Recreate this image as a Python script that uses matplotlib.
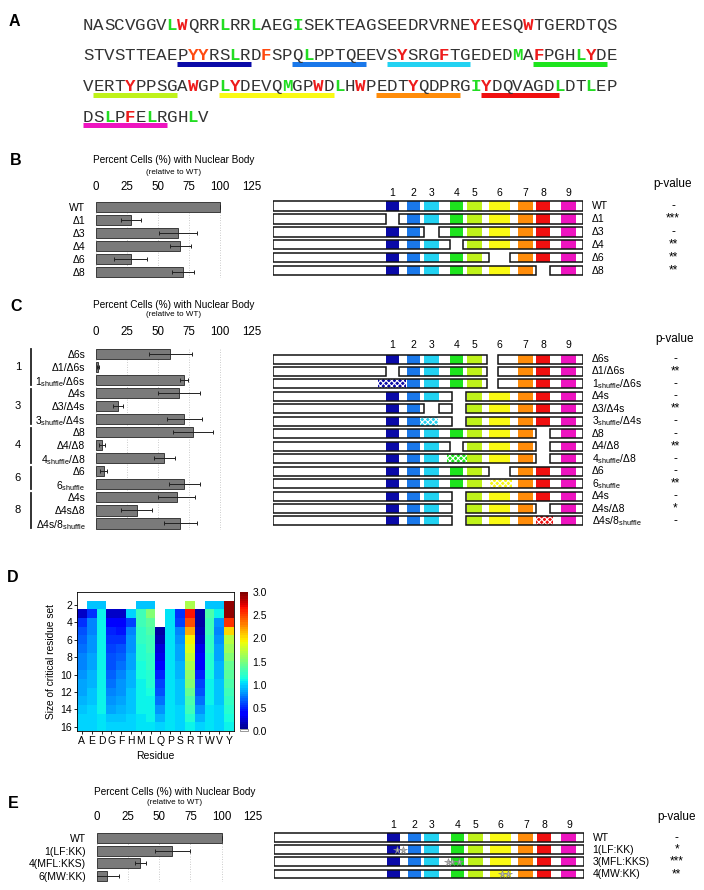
import numpy as np
import matplotlib
matplotlib.use('Agg')
import matplotlib.pyplot as plt
from matplotlib.patches import Rectangle
from matplotlib.colors import ListedColormap

plt.rcParams['font.family'] = ['Liberation Sans', 'DejaVu Sans']
plt.rcParams['mathtext.default'] = 'regular'
plt.rcParams['hatch.linewidth'] = 0.8

W, H = 704, 890
nan = np.nan

# ---------------- data ----------------
seq_lines = ["NASCVGGVLWQRRLRRLAEGISEKTEAGSEEDRVRNEYEESQWTGERDTQS",
             "STVSTTEAEPYYRSLRDFSPQLPPTQEEVSYSRGFTGEDEDMAFPGHLYDE",
             "VERTYPPSGAWGPLYDEVQMGPWDLHWPEDTYQDPRGIYDQVAGDLDTLEP",
             "DSLPFELRGHLV"]
# residue numbers (0-based) printed in colour
green_res = [8, 13, 16, 20, 65, 72, 92, 98, 115, 121, 126, 139, 147, 150, 155, 159, 163]
red_res = [9, 37, 42, 81, 85, 94, 99, 106, 112, 116, 124, 128, 133, 140, 157]
orange_res = [61, 62, 68]

# the nine conserved segments (residue ranges)
seg_start = [60, 71, 80, 94, 103, 115, 130, 140, 153]
seg_end = [67, 78, 88, 101, 111, 126, 138, 147.5, 161]
seg_colors = ['#0a0aa8', '#1a78ea', '#22d2f2', '#1ee41e', '#bff21a',
              '#fafa14', '#ff8c0a', '#f01010', '#ee14c0']
prot_len = 165

# partial deletions
del4s = (95, 102.5)
del6s = (114, 119.5)

# panel B
b_labels = ['WT', 'Δ1', 'Δ3', 'Δ4', 'Δ6', 'Δ8']
b_vals = [100, 28, 66, 68, 28, 70]
b_errs = [0, 8, 15, 8.5, 13, 9]
b_del = [[], [1], [3], [4], [6], [8]]
b_pval = ['-', '***', '-', '**', '**', '**']

# panel C
sh = '$_{shuffle}$'
c_labels = ['Δ6s', 'Δ1/Δ6s', '1' + sh + '/Δ6s', 'Δ4s', 'Δ3/Δ4s', '3' + sh + '/Δ4s',
            'Δ8', 'Δ4/Δ8', '4' + sh + '/Δ8', 'Δ6', '6' + sh, 'Δ4s', 'Δ4sΔ8',
            'Δ4s/8' + sh]
c_diag_labels = c_labels[:12] + ['Δ4s/Δ8', 'Δ4s/8' + sh]
c_vals = [60, 1.5, 71, 67, 18, 71, 78, 5, 55, 6.5, 71, 65, 33, 68]
c_errs = [17, 0.8, 3.5, 17, 4, 14, 16, 2.5, 8.5, 2.7, 12.5, 15, 12.5, 13.5]
c_del = [[del6s], [1, del6s], [del6s], [del4s], [3, del4s], [del4s],
         [8], [4, 8], [8], [6], [], [del4s], [del4s, 8], [del4s]]
c_shuffle = [None, None, (1, 55.7, 70.6), None, None, (3, 78, 87.6), None, None,
             (4, 92.4, 103), None, (6, 115.5, 127), None, None, (8, 140, 149)]
c_pval = ['-', '**', '-', '-', '**', '-', '-', '**', '-', '-', '**', '-', '*', '-']
c_groups = ['1', '3', '4', '6', '8']
c_group_sizes = [3, 3, 3, 2, 3]

# panel D: score per residue type, for critical residue set size 1..16
residues = ['A', 'E', 'D', 'G', 'F', 'H', 'M', 'L', 'Q', 'P', 'S', 'R', 'T', 'W', 'V', 'Y']
set_sizes = list(range(1, 17))
heat_A = [nan, nan, 0.2, 0.55, 0.65, 0.7, 0.72, 0.75, 0.78, 0.82, 0.85, 0.88, 0.9, 0.95, 1.0, 1.02]
heat_E = [nan, 0.95, 0.55, 0.75, 0.78, 0.8, 0.82, 0.85, 0.88, 0.9, 0.92, 0.95, 0.97, 1.0, 1.0, 1.02]
heat_D = [nan, 0.95, 1.1, 1.1, 1.1, 1.1, 1.1, 1.1, 1.1, 1.1, 1.1, 1.1, 1.08, 1.08, 1.05, 1.05]
heat_G = [nan, nan, 0.2, 0.4, 0.48, 0.55, 0.6, 0.62, 0.65, 0.7, 0.72, 0.75, 0.8, 0.85, 0.95, 1.0]
heat_F = [nan, nan, 0.2, 0.35, 0.45, 0.55, 0.62, 0.68, 0.72, 0.75, 0.8, 0.82, 0.85, 0.9, 0.95, 1.0]
heat_H = [nan, nan, 1.0, 0.6, 0.75, 0.8, 0.82, 0.85, 0.88, 0.9, 0.92, 0.95, 0.95, 0.98, 1.0, 1.02]
heat_M = [nan, 0.95, 1.3, 1.3, 1.25, 1.22, 1.2, 1.18, 1.15, 1.15, 1.12, 1.1, 1.1, 1.08, 1.05, 1.05]
heat_L = [nan, 0.95, 1.5, 1.4, 1.35, 1.3, 1.28, 1.25, 1.22, 1.2, 1.18, 1.15, 1.12, 1.1, 1.08, 1.05]
heat_Q = [nan, nan, nan, nan, 0.12, 0.18, 0.25, 0.32, 0.42, 0.5, 0.58, 0.65, 0.72, 0.8, 0.9, 1.0]
heat_P = [nan, nan, 1.05, 1.05, 1.05, 1.05, 1.05, 1.05, 1.05, 1.05, 1.05, 1.05, 1.05, 1.05, 1.05, 1.05]
heat_S = [nan, nan, 0.55, 0.6, 0.75, 0.8, 0.85, 0.88, 0.9, 0.92, 0.95, 0.95, 0.98, 1.0, 1.0, 1.02]
heat_R = [nan, 1.65, 2.65, 2.45, 2.2, 1.95, 1.85, 1.75, 1.65, 1.55, 1.5, 1.42, 1.35, 1.28, 1.2, 1.12]
heat_T = [nan, nan, 0.1, 0.1, 0.15, 0.22, 0.3, 0.35, 0.42, 0.5, 0.58, 0.65, 0.72, 0.8, 0.9, 1.0]
heat_W = [nan, 0.95, 1.35, 1.3, 1.28, 1.25, 1.22, 1.2, 1.18, 1.15, 1.12, 1.1, 1.08, 1.05, 1.05, 1.05]
heat_V = [nan, 0.95, 1.1, 0.8, 0.78, 0.8, 0.85, 0.88, 0.9, 0.92, 0.95, 0.95, 0.98, 1.0, 1.0, 1.02]
heat_Y = [nan, 2.95, 2.95, 2.55, 2.05, 1.7, 1.6, 1.5, 1.45, 1.4, 1.35, 1.3, 1.25, 1.2, 1.15, 1.1]

# panel E
e_labels = ['WT', '1(LF:KK)', '4(MFL:KKS)', '6(MW:KK)']
e_diag_labels = ['WT', '1(LF:KK)', '3(MFL:KKS)', '4(MW:KK)']
e_vals = [100, 60.5, 35, 8.5]
e_errs = [0, 14, 4.3, 9]
e_mut = [[], [65, 68], [92, 94, 98], [121, 124]]
e_pval = ['-', '*', '***', '**']


# ---------------- helpers ----------------
def box(l, t, r, b):
    return [l / W, 1 - b / H, (r - l) / W, (b - t) / H]


def px(x, y):
    return x / W, 1 - y / H


fig = plt.figure(figsize=(7.04, 8.90), dpi=100)

for lab, (x, y) in zip('ABCDE', [(14, 22), (16, 161), (16, 307), (13, 577), (13, 804)]):
    fig.text(*px(x, y), lab, fontsize=11.5, fontweight='bold', ha='center', va='center')

# ---------------- A: sequence ----------------
ax_a = fig.add_axes(box(83, 9.7, 617, 132.4))
ax_a.set_xlim(0, 51)
ax_a.set_ylim(3.5, -0.5)
ax_a.axis('off')
for li, line in enumerate(seq_lines):
    for ci, ch in enumerate(line):
        r = li * 51 + ci
        col, fw = '#333333', 'normal'
        if r in green_res:
            col, fw = '#22dd22', 'bold'
        elif r in red_res:
            col, fw = '#ee1c1c', 'bold'
        elif r in orange_res:
            col, fw = '#ff4a10', 'bold'
        ax_a.text(ci + 0.5, li + 0.15, ch, family='Liberation Mono', fontsize=12.6,
                  color=col, fontweight=fw, ha='center', va='baseline')
for s0, s1, c in zip(seg_start, seg_end, seg_colors):
    li = int(s0 // 51)
    ax_a.plot([s0 - li * 51, min(s1, (li + 1) * 51) - li * 51], [li + 0.27] * 2,
              color=c, lw=3.6, solid_capstyle='butt')


# ---------------- bar panels ----------------
def bar_panel(rect, labels, vals, errs, title_y, sub_y, tick_pad):
    ax = fig.add_axes(rect)
    y = np.arange(len(labels))
    ax.barh(y, vals, height=0.78, color='#7a7a7a', edgecolor='#3a3a3a', lw=0.7, zorder=2)
    ax.errorbar(vals, y, xerr=errs, fmt='none', ecolor='#222222', elinewidth=0.7,
                capsize=1.5, capthick=0.7, zorder=3)
    ax.set_xlim(0, 125)
    ax.set_ylim(len(labels) - 0.5, -0.5)
    ax.set_xticks([0, 25, 50, 75, 100, 125])
    ax.xaxis.set_ticks_position('top')
    ax.tick_params(axis='x', length=0, pad=tick_pad, labelsize=8.3)
    ax.set_yticks(y)
    ax.set_yticklabels(labels)
    ax.tick_params(axis='y', length=0, pad=7.5, labelsize=7.5)
    ax.grid(axis='x', ls=(0, (1, 2)), color='#bbbbbb', lw=0.6)
    ax.set_axisbelow(True)
    for s in ax.spines.values():
        s.set_visible(False)
    l, b, w, h = rect
    xc = (l + w * 0.5)
    fig.text(xc, 1 - title_y / H, 'Percent Cells (%) with Nuclear Body', fontsize=7.2,
             ha='center', va='center')
    fig.text(xc, 1 - sub_y / H, '(relative to WT)', fontsize=5.8, ha='center', va='center')
    return ax


# ---------------- construct diagrams ----------------
def diagram(rect, dels, shuffles, labels, pvals, num_y, head_y, lab_x, p_x, muts=None):
    ax = fig.add_axes(rect)
    n = len(dels)
    ax.set_xlim(0, prot_len)
    ax.set_ylim(n - 0.5, -0.5)
    ax.axis('off')
    l, b, w, h = rect
    top_px = (1 - b - h) * H
    row_px = h * H / n
    to_row = lambda ypx: (ypx - top_px) / row_px - 0.5
    to_x = lambda xpx: (xpx / W - l) / w * prot_len
    hh = 0.72
    for row in range(n):
        gaps = []
        for d in dels[row]:
            if isinstance(d, int):
                gaps.append((seg_start[d - 1], seg_end[d - 1]))
            else:
                gaps.append(d)
        gaps.sort()
        pieces, x0 = [], 0
        for g0, g1 in gaps:
            pieces.append((x0, g0))
            x0 = g1
        pieces.append((x0, prot_len))
        for p0, p1 in pieces:
            ax.add_patch(Rectangle((p0, row - hh / 2), p1 - p0, hh, fc='white', ec='none', zorder=1))
        shf = shuffles[row] if shuffles else None
        for k in range(9):
            s0, s1 = seg_start[k], seg_end[k]
            if any(s0 < g1 and s1 > g0 for g0, g1 in gaps):
                continue
            if shf and shf[0] == k + 1:
                continue
            ax.add_patch(Rectangle((s0, row - hh / 2), s1 - s0, hh, fc=seg_colors[k],
                                   ec='none', zorder=2))
        if shf:
            k, s0, s1 = shf
            ax.add_patch(Rectangle((s0, row - hh / 2), s1 - s0, hh, fc=seg_colors[k - 1],
                                   ec='white', lw=0, hatch='xxxxxx', zorder=2))
        for p0, p1 in pieces:
            ax.add_patch(Rectangle((p0, row - hh / 2), p1 - p0, hh, fill=False,
                                   ec='#111111', lw=1.1, zorder=4))
        if muts:
            ax.plot(np.array(muts[row]) + 0.5, [row] * len(muts[row]), ls='none',
                    marker='*', ms=5.5, mfc='#b8b8b8', mec='#808080', mew=0.4, zorder=5)
        ax.text(to_x(lab_x), row, labels[row], fontsize=7.5, ha='left', va='center')
        ax.text(to_x(p_x), row, pvals[row], fontsize=8.5, ha='center', va='center')
    for k in range(9):
        ax.text((seg_start[k] + seg_end[k]) / 2, to_row(num_y), str(k + 1), fontsize=7.5,
                ha='center', va='center')
    ax.text(to_x(p_x), to_row(head_y), 'p-value', fontsize=8.5, ha='center', va='center')
    return ax


# B
bar_panel(box(95.7, 200.5, 251.3, 278.2), b_labels, b_vals, b_errs, 160, 172, 5.5)
diagram(box(273.3, 199.5, 583.3, 277.2), b_del, None, b_labels, b_pval, 193, 184, 591.7, 673)

# C
ax_c = bar_panel(box(95.7, 347.5, 251.3, 530), c_labels, c_vals, c_errs, 305, 315, 6.5)
tr = ax_c.get_yaxis_transform()
start = 0
for g, n in zip(c_groups, c_group_sizes):
    ax_c.plot([-0.416, -0.416], [start - 0.35, start + n - 0.65], transform=tr,
              color='#222222', lw=1.3, clip_on=False)
    ax_c.text(-0.5, start + (n - 1) / 2, g, transform=tr, fontsize=8, ha='center', va='center')
    start += n
diagram(box(273.3, 352.8, 583.3, 527.2), c_del, c_shuffle, c_diag_labels, c_pval, 345, 339,
        591.7, 675)

# D heatmap
heat = np.array([heat_A, heat_E, heat_D, heat_G, heat_F, heat_H, heat_M, heat_L, heat_Q,
                 heat_P, heat_S, heat_R, heat_T, heat_W, heat_V, heat_Y]).T
jet = plt.get_cmap('jet')(np.linspace(0, 1, 64))
jet[0] = [1, 1, 1, 1]
cmap = ListedColormap(jet)
cmap.set_bad('white')
ax_d = fig.add_axes(box(77, 592, 234, 731))
im = ax_d.imshow(heat, cmap=cmap, vmin=0, vmax=3, aspect='auto', interpolation='nearest',
                 extent=(0.5, 16.5, 16.5, 0.5))
ax_d.set_xticks(range(1, 17))
ax_d.set_xticklabels(residues)
ax_d.set_yticks(set_sizes[1::2])
ax_d.tick_params(length=2, width=0.6, labelsize=7.5, pad=1.5)
ax_d.set_xlabel('Residue', fontsize=7.5, labelpad=4)
ax_d.set_ylabel('Size of critical residue set', fontsize=7.3, labelpad=3)
for s in ax_d.spines.values():
    s.set_linewidth(0.6)
cax = fig.add_axes(box(240, 592, 248.3, 731))
cb = fig.colorbar(im, cax=cax, ticks=np.arange(0, 3.01, 0.5), format='%.1f')
cb.outline.set_visible(False)
cax.tick_params(length=0, labelsize=7.5, pad=3)
cax.add_patch(Rectangle((0, 0), 1, 3 / 64, fill=False, ec='#888888', lw=0.6, clip_on=False))

# E
bar_panel(box(96.7, 831.7, 252.95, 882.1), e_labels, e_vals, e_errs, 791.7, 802, 6)
diagram(box(274.3, 831.6, 584, 880), [[]] * 4, None, e_diag_labels, e_pval, 825, 816.7,
        592.7, 676.7, muts=e_mut)

fig.savefig('out.png', dpi=100)
